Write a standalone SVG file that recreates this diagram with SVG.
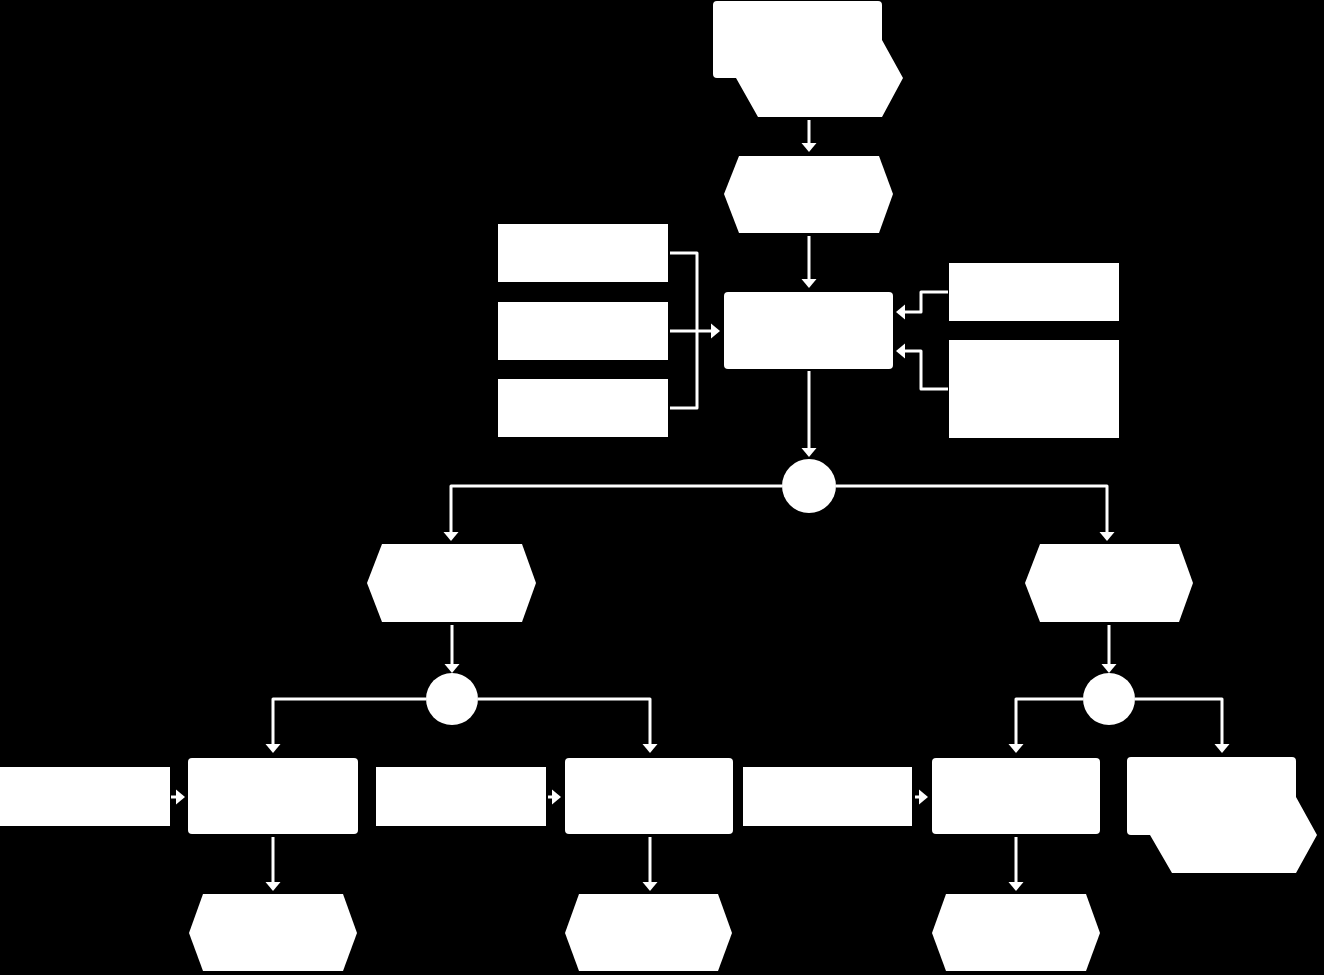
<svg xmlns="http://www.w3.org/2000/svg" width="1324" height="975" viewBox="0 0 1324 975">
<style>
.n{fill:#fff;stroke:none}
.c{fill:none;stroke:#fff;stroke-width:3;stroke-linejoin:round}
.a{marker-end:url(#ah)}
</style>
<defs>
<marker id="ah" markerUnits="userSpaceOnUse" markerWidth="10" markerHeight="16" refX="4" refY="8" orient="auto">
<path d="M0,0.5 L9,8 L0,15.5 Z" fill="#fff"/>
</marker>
</defs>
<rect width="1324" height="975" fill="#000"/>
<g id="start"><path class="n" d="M713,5 Q713,1 717,1 H878 Q882,1 882,5 V40 L903,78 L882,117 H758 L736,78 H717 Q713,78 713,74 Z"/></g>
<g id="event1"><path class="n" d="M739,156 H879 L893,194 L879,233 H739 L724,194 Z"/></g>
<g id="in1"><rect class="n" x="498" y="224" width="170" height="58"/></g>
<g id="in2"><rect class="n" x="498" y="302" width="170" height="58"/></g>
<g id="in3"><rect class="n" x="498" y="379" width="170" height="58"/></g>
<g id="func1"><rect class="n" x="724" y="292" width="169" height="77" rx="4"/></g>
<g id="rin1"><rect class="n" x="949" y="263" width="170" height="58"/></g>
<g id="rin2"><rect class="n" x="949" y="340" width="170" height="98"/></g>
<g id="xor1"><circle class="n" cx="809" cy="486" r="27"/></g>
<g id="eventL"><path class="n" d="M382,544 H522 L536,583 L522,622 H382 L367,583 Z"/></g>
<g id="eventR"><path class="n" d="M1040,544 H1179 L1193,583 L1179,622 H1040 L1025,583 Z"/></g>
<g id="xor2"><circle class="n" cx="452" cy="699" r="26"/></g>
<g id="xor3"><circle class="n" cx="1109" cy="699" r="26"/></g>
<g id="bin1"><rect class="n" x="0" y="767" width="170" height="59"/></g>
<g id="bin2"><rect class="n" x="376" y="767" width="170" height="59"/></g>
<g id="bin3"><rect class="n" x="743" y="767" width="169" height="59"/></g>
<g id="bf1"><rect class="n" x="188" y="758" width="170" height="76" rx="4"/></g>
<g id="bf2"><rect class="n" x="565" y="758" width="168" height="76" rx="4"/></g>
<g id="bf3"><rect class="n" x="932" y="758" width="168" height="76" rx="4"/></g>
<g id="end"><path class="n" d="M1127,761 Q1127,757 1131,757 H1292 Q1296,757 1296,761 V797 L1317,835 L1296,873 H1172 L1150,835 H1131 Q1127,835 1127,831 Z"/></g>
<g id="be1"><path class="n" d="M203,894 H343 L357,933 L343,971 H203 L189,933 Z"/></g>
<g id="be2"><path class="n" d="M579,894 H718 L732,933 L718,971 H579 L565,933 Z"/></g>
<g id="be3"><path class="n" d="M946,894 H1086 L1100,933 L1086,971 H946 L932,933 Z"/></g>
<g id="connectors">
<path class="c a" d="M809,120 V147"/>
<path class="c a" d="M809,236 V283"/>
<path class="c" d="M670,253 H697 V408 H670"/>
<path class="c a" d="M670,331 H715"/>
<path class="c a" d="M948,292 H921 V312 H901"/>
<path class="c a" d="M948,389 H921 V351 H901"/>
<path class="c a" d="M809,371 V452"/>
<path class="c a" d="M782,486 H451 V536"/>
<path class="c a" d="M836,486 H1107 V536"/>
<path class="c a" d="M452,625 V668"/>
<path class="c a" d="M426,699 H273 V748"/>
<path class="c a" d="M478,699 H650 V748"/>
<path class="c a" d="M1109,625 V668"/>
<path class="c a" d="M1083,699 H1016 V748"/>
<path class="c a" d="M1135,699 H1222 V748"/>
<path class="c a" d="M273,837 V886"/>
<path class="c a" d="M650,837 V886"/>
<path class="c a" d="M1016,837 V886"/>
<path class="c a" d="M171,797 H180"/>
<path class="c a" d="M548,797 H556"/>
<path class="c a" d="M915,797 H923"/>
</g>
</svg>
